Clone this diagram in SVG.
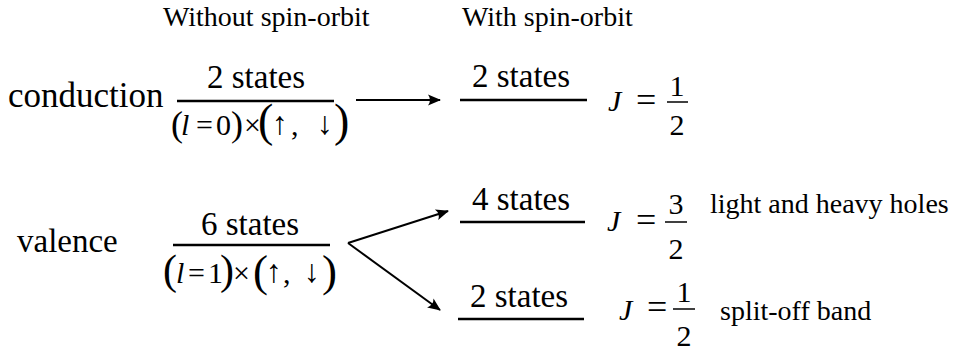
<svg xmlns="http://www.w3.org/2000/svg" width="954" height="351" viewBox="0 0 954 351">
<defs>
<style>
.bar{stroke:#000;stroke-width:2.5}
.thin{stroke:#000;stroke-width:1.5}
.conn{stroke:#000;stroke-width:2;fill:none}
</style>
<marker id="ah" viewBox="-14 -7 16 14" refX="0" refY="0" markerWidth="16" markerHeight="14" markerUnits="userSpaceOnUse" orient="auto">
<path d="M1,0 L-12,-5.5 Q-8,0 -12,5.5 Z" fill="#000"/>
</marker>
</defs>
<rect width="954" height="351" fill="#fff"/>

<g id="headers">
<text font-family="'Liberation Serif', serif" font-size="28" x="163" y="26">Without spin-orbit</text>
<text font-family="'Liberation Serif', serif" font-size="28" x="462" y="26">With spin-orbit</text>
</g>

<g id="conduction">
<text font-family="'Liberation Serif', serif" font-size="35" x="8" y="107">conduction</text>
<text font-family="'Liberation Serif', serif" font-size="33" x="207" y="88">2 states</text>
<text font-family="'Liberation Serif', serif" font-size="36" x="171" y="136">(</text>
<text font-family="'Liberation Serif', serif" font-size="30" font-style="italic" x="181" y="135">l</text>
<text font-family="'Liberation Serif', serif" font-size="30" x="196" y="135">=</text>
<text font-family="'Liberation Serif', serif" font-size="30" x="216" y="135">0</text>
<text font-family="'Liberation Serif', serif" font-size="36" x="231" y="136">)</text>
<text font-family="'Liberation Serif', serif" font-size="30" x="244" y="135">×</text>
<text font-family="'Liberation Serif', serif" font-size="46" x="258" y="136">(</text>
<text font-family="'Liberation Serif', 'DejaVu Serif', serif" font-size="32" x="272" y="134">↑</text>
<text font-family="'Liberation Serif', serif" font-size="30" x="291" y="135">,</text>
<text font-family="'Liberation Serif', 'DejaVu Serif', serif" font-size="32" x="317" y="134">↓</text>
<text font-family="'Liberation Serif', serif" font-size="46" x="334" y="136">)</text>
</g>

<g id="valence">
<text font-family="'Liberation Serif', serif" font-size="33" x="17" y="252">valence</text>
<text font-family="'Liberation Serif', serif" font-size="33" x="201" y="235">6 states</text>
<text font-family="'Liberation Serif', serif" font-size="42" x="163" y="284">(</text>
<text font-family="'Liberation Serif', serif" font-size="30" font-style="italic" x="176" y="283">l</text>
<text font-family="'Liberation Serif', serif" font-size="30" x="188" y="283">=</text>
<text font-family="'Liberation Serif', serif" font-size="30" x="208" y="283">1</text>
<text font-family="'Liberation Serif', serif" font-size="42" x="220" y="284">)</text>
<text font-family="'Liberation Serif', serif" font-size="30" x="233" y="283">×</text>
<text font-family="'Liberation Serif', serif" font-size="45" x="253" y="286">(</text>
<text font-family="'Liberation Serif', 'DejaVu Serif', serif" font-size="32" x="266" y="282">↑</text>
<text font-family="'Liberation Serif', serif" font-size="30" x="283" y="283">,</text>
<text font-family="'Liberation Serif', 'DejaVu Serif', serif" font-size="32" x="304" y="282">↓</text>
<text font-family="'Liberation Serif', serif" font-size="45" x="322" y="286">)</text>
</g>

<g id="cond-j12">
<text font-family="'Liberation Serif', serif" font-size="33" x="472" y="87">2 states</text>
<text font-family="'Liberation Serif', serif" font-size="30" font-style="italic" x="608" y="111">J</text>
<text font-family="'Liberation Serif', serif" font-size="36" x="636" y="112">=</text>
<text font-family="'Liberation Serif', serif" font-size="30" x="677" y="96" text-anchor="middle">1</text>
<text font-family="'Liberation Serif', serif" font-size="30" x="677" y="135" text-anchor="middle">2</text>
</g>

<g id="val-j32">
<text font-family="'Liberation Serif', serif" font-size="33" x="472" y="210">4 states</text>
<text font-family="'Liberation Serif', serif" font-size="30" font-style="italic" x="607" y="231">J</text>
<text font-family="'Liberation Serif', serif" font-size="36" x="636" y="232">=</text>
<text font-family="'Liberation Serif', serif" font-size="30" x="676" y="214" text-anchor="middle">3</text>
<text font-family="'Liberation Serif', serif" font-size="30" x="676" y="259" text-anchor="middle">2</text>
<text font-family="'Liberation Serif', serif" font-size="28" x="710" y="213">light and heavy holes</text>
</g>

<g id="val-j12">
<text font-family="'Liberation Serif', serif" font-size="33" x="470" y="307">2 states</text>
<text font-family="'Liberation Serif', serif" font-size="30" font-style="italic" x="619" y="320">J</text>
<text font-family="'Liberation Serif', serif" font-size="36" x="647" y="319">=</text>
<text font-family="'Liberation Serif', serif" font-size="30" x="684" y="302" text-anchor="middle">1</text>
<text font-family="'Liberation Serif', serif" font-size="30" x="684" y="346" text-anchor="middle">2</text>
<text font-family="'Liberation Serif', serif" font-size="28" x="720" y="320">split-off band</text>
</g>

<g id="bars">
<line class="bar" x1="177" y1="101" x2="334" y2="101"/>
<line class="bar" x1="173" y1="245" x2="330" y2="245"/>
<line class="bar" x1="460" y1="100" x2="587" y2="100"/>
<line class="bar" x1="460" y1="222" x2="585" y2="222"/>
<line class="bar" x1="458" y1="319" x2="584" y2="319"/>
<line class="thin" x1="667" y1="102" x2="688" y2="102"/>
<line class="thin" x1="665" y1="222" x2="687" y2="222"/>
<line class="thin" x1="673" y1="309" x2="695" y2="309"/>
</g>

<g id="connectors">
<path class="conn" d="M356,100 L440,100" marker-end="url(#ah)"/>
<path class="conn" d="M348,243 L448,211" marker-end="url(#ah)"/>
<path class="conn" d="M348,243 L440,310" marker-end="url(#ah)"/>
</g>
</svg>
